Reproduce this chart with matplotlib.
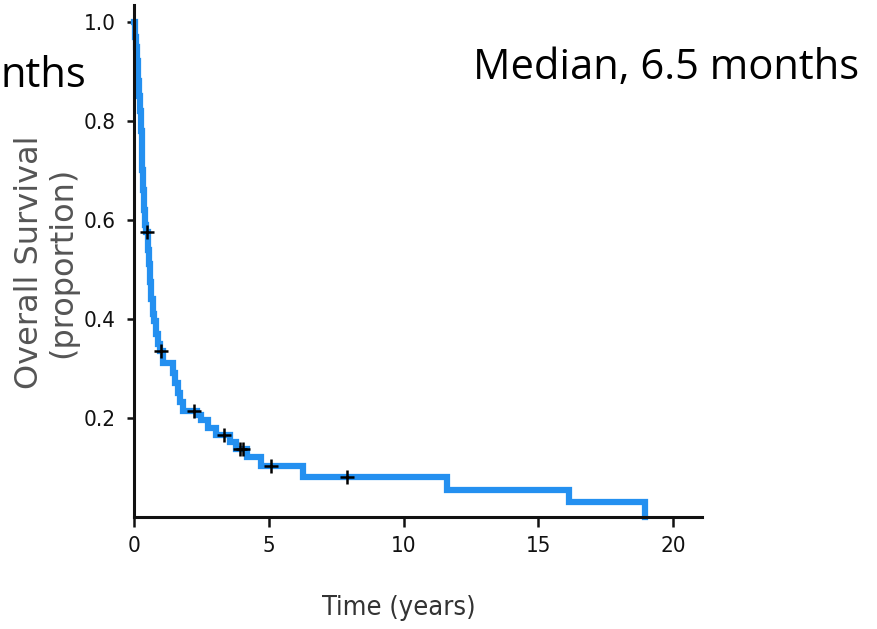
import matplotlib
matplotlib.use('Agg')
import matplotlib.pyplot as plt

# Kaplan-Meier steps (years, proportion surviving)
times = [0, 0.03, 0.06, 0.10, 0.14, 0.18, 0.22, 0.25, 0.28, 0.31, 0.34, 0.38,
         0.42, 0.44, 0.52, 0.56, 0.59, 0.64, 0.69, 0.74, 0.80, 0.88, 0.96,
         1.06, 1.45, 1.53, 1.62, 1.72, 1.80, 2.35, 2.50, 2.75, 3.05, 3.55,
         3.80, 4.20, 4.72, 6.28, 11.60, 16.12, 18.94]
surv = [1.0, 0.97, 0.95, 0.92, 0.88, 0.85, 0.82, 0.78, 0.74, 0.70, 0.66, 0.62,
        0.59, 0.575, 0.54, 0.51, 0.475, 0.44, 0.41, 0.395, 0.37, 0.35, 0.335,
        0.31, 0.29, 0.27, 0.25, 0.232, 0.215, 0.205, 0.195, 0.18, 0.165, 0.152,
        0.138, 0.122, 0.102, 0.081, 0.055, 0.031, 0.0]

# censored observations
cens_t = [0.47, 1.02, 2.24, 3.35, 3.93, 4.06, 5.07, 7.89]
cens_s = [0.575, 0.335, 0.215, 0.165, 0.138, 0.138, 0.102, 0.081]

xticks = [0, 5, 10, 15, 20]
yticks = [0.2, 0.4, 0.6, 0.8, 1.0]

fig = plt.figure(figsize=(8.78, 6.29), dpi=100)
W, H = 878, 629
ax = fig.add_axes([134 / W, 1 - 517 / H, (702 - 134) / W, (517 - 5) / H])

ax.step(times, surv, where='post', color='#2490F0', lw=4.5, clip_on=False,
        solid_joinstyle='miter')
ax.plot(cens_t, cens_s, '+', color='black', ms=10, mew=1.8, zorder=3)

ax.set_xlim(0, 21.07)
ax.set_ylim(0, 1.034)
ax.set_xticks(xticks)
ax.set_xticklabels([str(v) for v in xticks])
ax.set_yticks(yticks)
ax.set_yticklabels(['%.1f' % v for v in yticks])

for s in ['top', 'right']:
    ax.spines[s].set_visible(False)
for s in ['left', 'bottom']:
    ax.spines[s].set_linewidth(2.2)
    ax.spines[s].set_color('#111111')

ax.tick_params(axis='x', length=7, width=1.8, pad=7, colors='#111111')
ax.tick_params(axis='y', length=5, width=1.8, pad=8, colors='#111111')
for lab in ax.get_xticklabels() + ax.get_yticklabels():
    lab.set_family('DejaVu Sans')
    lab.set_stretch('condensed')
    lab.set_fontsize(16)

fig.text(399 / W, 1 - 615 / H, 'Time (years)', ha='center', va='baseline',
         family='DejaVu Sans', stretch='condensed', fontsize=19.5,
         color='#333333')
fig.text(46 / W, 1 - 262 / H, 'Overall Survival\n(proportion)', rotation=90,
         ha='center', va='center', multialignment='center', linespacing=1.08,
         family='DejaVu Sans', fontsize=23, color='#555555')

fig.text(473 / W, 1 - 79 / H, 'Median, 6.5 months', ha='left', va='baseline',
         family='Open Sans', fontsize=30, color='black')
fig.text(0, 1 - 87 / H, 'nths', ha='left', va='baseline',
         family='Open Sans', fontsize=30, color='black')

fig.savefig('out.png', dpi=100)
